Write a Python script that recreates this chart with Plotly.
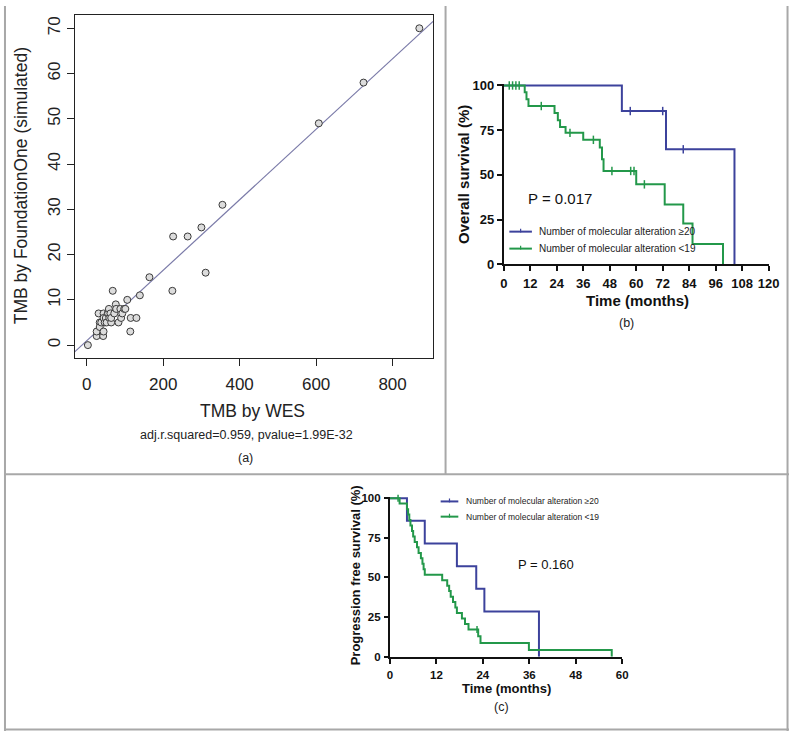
import numpy as np
import plotly.graph_objects as go

W, H = 800, 739
FONT = "Liberation Sans, Arial, sans-serif"
BLUE = "#3c429c"
GREEN = "#23984a"


def px(x):
    return x / W


def py(y):
    return 1 - y / H


# ---------------- Panel (a): TMB scatter ----------------
tmb_wes = [3, 26, 26, 31, 34, 34, 38, 43, 44, 44, 44, 47, 50, 52, 55, 56, 58, 59,
           62, 64, 64, 68, 72, 76, 77, 83, 88, 90, 93, 98, 101, 106, 114, 115, 130,
           139, 164, 224, 226, 264, 300, 311, 355, 607, 724, 870]
tmb_f1 = [0, 2, 3, 7, 5, 4, 5, 2, 3, 7, 6, 5, 6, 5, 7, 7, 8, 6,
          7, 5, 6, 12, 7, 9, 8, 5, 8, 6, 7, 8, 8, 10, 3, 6, 6,
          11, 15, 12, 24, 24, 26, 16, 31, 49, 58, 70]
stats_text = "adj.r.squared=0.959, pvalue=1.99E-32"

# ---------------- Panel (b): overall survival ----------------
os_hi_time = [0, 53.5, 73.5, 104.5]
os_hi_surv = [100, 85.7, 64.3, 0]
os_hi_cens_time = [57.3, 72.0, 81.3]
os_hi_cens_surv = [85.7, 85.7, 64.3]

os_lo_time = [0, 9.5, 10.3, 11.2, 23.0, 24.5, 25.5, 28.0, 36.0, 43.5, 44.5, 45.2,
              60.0, 72.9, 81.3, 85.5, 99.3]
os_lo_surv = [100, 96.2, 92.3, 88.5, 84.6, 80.6, 76.8, 73.5, 69.6, 65.3, 58.7, 52.2,
              44.7, 33.5, 22.8, 11.4, 0]
os_lo_cens_time = [2.5, 4.0, 5.5, 7.0, 17.0, 30.0, 40.6, 49.0, 57.5, 59.0, 63.7]
os_lo_cens_surv = [100, 100, 100, 100, 88.5, 73.5, 69.6, 52.2, 52.2, 52.2, 44.7]

# ---------------- Panel (c): progression free survival ----------------
pfs_hi_time = [0, 4.4, 9.0, 17.3, 22.3, 24.4, 38.5]
pfs_hi_surv = [100, 85.7, 71.4, 57.1, 42.9, 28.6, 0]

pfs_lo_time = [0, 2.5, 4.4, 4.7, 5.0, 5.3, 5.7, 6.0, 6.4, 7.0, 7.4, 8.0, 8.4, 8.7, 9.0,
               13.5, 14.8, 15.3, 15.7, 16.3, 16.9, 17.3, 18.6, 19.4, 20.3, 22.8, 23.4,
               35.9, 57.3]
pfs_lo_surv = [100, 96.6, 93.1, 89.7, 86.2, 82.8, 79.3, 75.9, 72.4, 69.0, 65.5, 62.1,
               58.6, 55.2, 51.7, 48.3, 44.8, 41.4, 37.9, 34.5, 31.0, 27.6, 24.1, 20.7,
               17.2, 12.9, 8.6, 4.3, 0]
pfs_lo_cens_time = [2.1, 22.5]
pfs_lo_cens_surv = [100, 17.2]

legend_hi = "Number of molecular alteration ≥20"
legend_lo = "Number of molecular alteration <19"

fig = go.Figure()

# ---- (a) traces
xr_a = [-31.6, 906]
slope, intercept = np.polyfit(tmb_wes, tmb_f1, 1)
line_x = np.array(xr_a)
fig.add_trace(go.Scatter(x=line_x, y=intercept + slope * line_x, mode="lines",
                         line=dict(color="#7a7aa8", width=1.2),
                         xaxis="x", yaxis="y", hoverinfo="skip"))
fig.add_trace(go.Scatter(x=tmb_wes, y=tmb_f1, mode="markers",
                         marker=dict(symbol="circle", size=7, color="#dcdcdc",
                                     line=dict(color="#3a3a3a", width=1)),
                         xaxis="x", yaxis="y"))


def km(t, s, color, xa, ya, width=2):
    fig.add_trace(go.Scatter(x=t, y=s, mode="lines", line_shape="hv",
                             line=dict(color=color, width=width),
                             xaxis=xa, yaxis=ya))


def cens(t, s, color, xa, ya, size=6):
    fig.add_trace(go.Scatter(x=t, y=s, mode="markers",
                             marker=dict(symbol="line-ns", size=size,
                                         line=dict(color=color, width=1.5)),
                             xaxis=xa, yaxis=ya, cliponaxis=False))


# ---- (b) traces
km(os_hi_time, os_hi_surv, BLUE, "x2", "y2")
cens(os_hi_cens_time, os_hi_cens_surv, BLUE, "x2", "y2")
km(os_lo_time, os_lo_surv, GREEN, "x2", "y2")
cens(os_lo_cens_time, os_lo_cens_surv, GREEN, "x2", "y2")

# ---- (c) traces
km(pfs_hi_time, pfs_hi_surv, BLUE, "x3", "y3")
km(pfs_lo_time, pfs_lo_surv, GREEN, "x3", "y3")
cens(pfs_lo_cens_time, pfs_lo_cens_surv, GREEN, "x3", "y3", size=5)

# ---- axes
a_x_dom = [px(72), px(437.3)]
a_y_dom = [py(358.3), py(9)]
b_x_dom = [px(509.3), px(779.3)]
b_y_dom = [py(263.3), py(263.3 - 101 * 1.823)]
c_x_dom = [px(393.3), px(630)]
c_y_dom = [py(663.3), py(663.3 - 101 * 1.616)]

tick_a = dict(family=FONT, size=17, color="#222")
tick_b = dict(family=FONT, size=13, color="#111", weight="bold")
tick_c = dict(family=FONT, size=11.5, color="#111", weight="bold")

fig.update_layout(
    width=W, height=H, margin=dict(l=0, r=0, t=0, b=0),
    paper_bgcolor="white", plot_bgcolor="white", showlegend=False,
    xaxis=dict(domain=a_x_dom, range=xr_a, tickvals=[0, 200, 400, 600, 800],
               showline=True, mirror=True, linecolor="#222", linewidth=1,
               ticks="outside", ticklen=7, tickcolor="#222", showgrid=False,
               zeroline=False, tickfont=tick_a, ticklabelstandoff=4, anchor="y"),
    yaxis=dict(domain=a_y_dom, range=[-2.74, 72.97],
               tickvals=[0, 10, 20, 30, 40, 50, 60, 70], tickangle=-90,
               showline=True, mirror=True, linecolor="#222", linewidth=1,
               ticks="outside", ticklen=7, tickcolor="#222", showgrid=False,
               zeroline=False, tickfont=tick_a, anchor="x"),
    xaxis2=dict(domain=b_x_dom, range=[0, 120], tickvals=list(range(0, 121, 12)),
                showline=True, linecolor="#111", linewidth=2, ticks="outside",
                ticklen=5, tickwidth=2, tickcolor="#111", showgrid=False,
                zeroline=False, tickfont=tick_b, anchor="y2", ticklabelstandoff=1),
    yaxis2=dict(domain=b_y_dom, range=[0, 101], tickvals=[0, 25, 50, 75, 100],
                showline=True, linecolor="#111", linewidth=2, ticks="outside",
                ticklen=5, tickwidth=2, tickcolor="#111", showgrid=False,
                zeroline=False, tickfont=tick_b, anchor="x2"),
    xaxis3=dict(domain=c_x_dom, range=[0, 60], tickvals=list(range(0, 61, 12)),
                showline=True, linecolor="#111", linewidth=2, ticks="outside",
                ticklen=5, tickwidth=2, tickcolor="#111", showgrid=False,
                zeroline=False, tickfont=tick_c, anchor="y3", ticklabelstandoff=1),
    yaxis3=dict(domain=c_y_dom, range=[0, 101], tickvals=[0, 25, 50, 75, 100],
                showline=True, linecolor="#111", linewidth=2, ticks="outside",
                ticklen=4, tickwidth=2, tickcolor="#111", showgrid=False,
                zeroline=False, tickfont=tick_c, anchor="x3", ticklabelstandoff=1),
)

# ---- frame lines
frame = dict(color="#a8a8a8", width=2)
shapes = [
    dict(type="line", xref="paper", yref="paper", x0=px(1), x1=px(1), y0=0, y1=1, line=frame),
    dict(type="line", xref="paper", yref="paper", x0=px(798.5), x1=px(798.5), y0=0, y1=1, line=frame),
    dict(type="line", xref="paper", yref="paper", x0=0, x1=1, y0=py(737.5), y1=py(737.5), line=frame),
    dict(type="line", xref="paper", yref="paper", x0=0, x1=1, y0=py(477.3), y1=py(477.3), line=frame),
    dict(type="line", xref="paper", yref="paper", x0=px(450), x1=px(450), y0=py(477.3), y1=1, line=frame),
]

annotations = []


# ---- legends (drawn manually)
def legend_row(x0, x1, y, color, text, size, tx):
    xm = (x0 + x1) / 2
    shapes.append(dict(type="line", xref="paper", yref="paper", x0=px(x0), x1=px(x1),
                       y0=py(y), y1=py(y), line=dict(color=color, width=2)))
    shapes.append(dict(type="line", xref="paper", yref="paper", x0=px(xm), x1=px(xm),
                       y0=py(y - 3), y1=py(y + 1), line=dict(color=color, width=1.2)))
    annotations.append(dict(text=text, x=px(tx), y=py(y), xref="paper", yref="paper",
                            xanchor="left", yanchor="middle", showarrow=False,
                            font=dict(family=FONT, size=size, color="#222")))


legend_row(515, 538, 230, BLUE, legend_hi, 10, 543)
legend_row(515, 538, 247.3, GREEN, legend_lo, 10, 543)
legend_row(445, 463, 505, BLUE, legend_hi, 8.5, 469)
legend_row(445, 463, 520.5, GREEN, legend_lo, 8.5, 469)


def txt(text, x, y, size, bold=False, angle=0, color="#111"):
    f = dict(family=FONT, size=size, color=color)
    if bold:
        f["weight"] = "bold"
    annotations.append(dict(text=text, x=px(x), y=py(y), xref="paper", yref="paper",
                            xanchor="center", yanchor="middle", showarrow=False,
                            textangle=angle, font=f))


# (a)
txt("TMB by FoundationOne (simulated)", 17, 183, 17.5, angle=-90, color="#222")
txt("TMB by WES", 253, 412.7, 17.5, color="#222")
txt(stats_text, 246.7, 437.7, 12.5, color="#222")
txt("(a)", 246, 461, 12.5, color="#222")
# (b)
txt("Overall survival (%)", 468.3, 171.7, 15, bold=True, angle=-90)
txt("Time (months)", 645.7, 300, 15, bold=True)
txt("P = 0.017", 566.7, 196.7, 15)
txt("(b)", 634, 323, 12.5, color="#222")
# (c)
txt("Progression free survival (%)", 358, 580, 13, bold=True, angle=-90)
txt("Time (months)", 511.7, 695.7, 13, bold=True)
txt("P = 0.160", 552.7, 569, 13)
txt("(c)", 506.7, 714.3, 12.5, color="#222")

fig.update_layout(shapes=shapes, annotations=annotations)

page_fix = (
    "var h=document.documentElement, b=document.body;"
    "h.style.margin='0';h.style.padding='0';h.style.overflow='hidden';"
    "h.style.width='800px';h.style.height='739px';"
    "b.style.margin='0';b.style.padding='0';b.style.overflow='hidden';"
    "b.style.width='800px';b.style.height='739px';"
    "var g=document.getElementById('{plot_id}');"
    "if(g&&g.parentElement){g.parentElement.style.height='739px';"
    "g.parentElement.style.width='800px';g.parentElement.style.overflow='hidden';"
    "g.parentElement.style.lineHeight='0';g.parentElement.style.fontSize='0';}"
)
fig.write_html("out.html", config={"displayModeBar": False}, post_script=page_fix)
